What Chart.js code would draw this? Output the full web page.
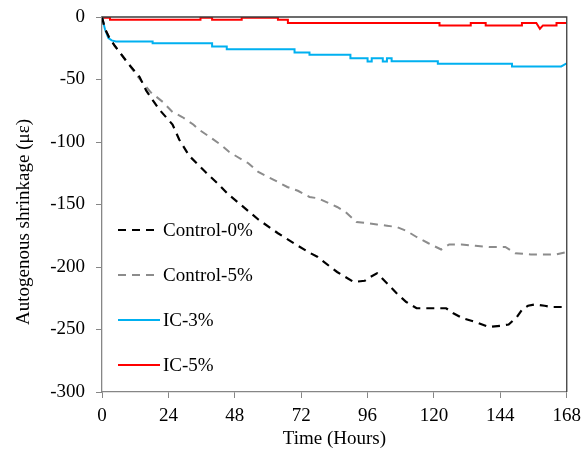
<!DOCTYPE html>
<html>
<head>
<meta charset="utf-8">
<script src="https://cdn.jsdelivr.net/npm/chart.js@4.4.1/dist/chart.umd.min.js"></script>
<style>
  html, body { margin: 0; padding: 0; background: #fff; }
  #wrap { width: 588px; height: 454px; }
</style>
</head>
<body>
<div id="wrap"><canvas id="chart" width="588" height="454"></canvas></div>
<script>
// ─── Data ───────────────────────────────────────────────────────────────────
const seriesLabels = ['Control-0%', 'Control-5%', 'IC-3%', 'IC-5%'];
const xTicks = [0, 24, 48, 72, 96, 120, 144, 168];
const yTicks = [0, -50, -100, -150, -200, -250, -300];

const ctrl0Hours  = [0, 1, 2.5, 4.6, 7, 9.4, 13.6, 16, 20.7, 25.5, 27.9, 31.5, 37.4, 42.2, 45.7, 49, 56.5, 63.6, 70.8, 75.4, 78,
                     82.6, 85, 91, 95, 97, 99.4, 103, 106.5, 110, 113.7, 118, 124.4, 127, 130.4, 135, 139.8,
                     144, 147, 150, 151.9, 154, 156.5, 160, 162.6, 168];
const ctrl0Strain = [0, -9, -16, -23, -30, -37, -48, -59, -74, -86, -98, -111, -124, -134, -142, -148, -162, -173, -183, -189, -192,
                     -200, -204, -212, -211, -208, -205, -213, -221, -228, -233, -233, -233, -237, -241, -244, -248,
                     -247, -246, -240, -234, -231, -230, -231, -232, -232];

const ctrl5Hours  = [0, 1, 2.5, 4.6, 7, 9.4, 13, 16, 17.5, 22, 25.5, 29, 33, 35, 39, 43.4, 46, 49, 52.9, 56.5, 60, 63.6,
                     67, 70.8, 75, 78, 82, 85, 88, 90, 92, 96, 99.4, 103, 106.5, 110, 113.7, 118, 122.6, 125.5,
                     130, 135, 140, 145.8, 149.4, 155, 159, 164, 168];
const ctrl5Strain = [0, -9, -16, -23, -30, -37, -48, -56, -60, -68, -76, -80, -86, -90, -96, -103, -108, -112, -117, -124, -128, -132,
                     -136, -139, -144, -145, -149, -152, -156, -160, -164, -165, -166, -167, -168, -171, -176, -181, -186, -182,
                     -182, -183, -184, -184, -189, -190, -190, -190, -188];

const ic3Hours  = [0, 1.1, 2.3, 3.5, 5, 18.3, 18.3, 39.8, 39.8, 45.1, 45.1, 69.6, 69.6, 75, 75, 89.8, 89.8, 96, 96,
                   97.5, 97.5, 101.5, 101.5, 103, 103, 104.7, 104.7, 121.4, 121.4, 148.2, 148.2, 166, 168];
const ic3Strain = [0, -10, -16.8, -18.7, -19.5, -19.5, -21, -21, -23.5, -23.5, -25.8, -25.8, -28.3, -28.3, -30.2, -30.2, -33, -33, -35.5,
                   -35.5, -33, -33, -35.5, -35.5, -33, -33, -35.3, -35.3, -37.4, -37.4, -39.5, -39.5, -37];

const ic5Hours  = [0, 2.9, 2.9, 35.6, 35.6, 39.8, 39.8, 50.5, 50.5, 63.6, 63.6, 67.2, 67.2, 122, 122, 133.3, 133.3,
                   138.7, 138.7, 151.8, 151.8, 157, 158.3, 159.4, 164.3, 164.3, 168];
const ic5Strain = [-0.5, -0.5, -2.2, -2.2, -0.6, -0.6, -2.2, -2.2, -0.6, -0.6, -2.2, -2.2, -4.8, -4.8, -6.7, -6.7, -4.8,
                   -4.8, -6.7, -6.7, -4.8, -4.8, -9.4, -6.7, -6.7, -4.8, -4.8];

const yTitle = 'Autogenous shrinkage (με)';
const xTitle = 'Time (Hours)';

// ─── Helpers ────────────────────────────────────────────────────────────────
const FONT = '"Liberation Serif", "Times New Roman", serif';
const AXIS_GREY = '#868686';

function pts(hours, strain) {
  return hours.map((h, i) => ({ x: h, y: strain[i] }));
}

// Cadre haut / droit (le bas et la gauche sont les axes)
const frameLines = {
  id: 'frameLines',
  afterDraw(chart) {
    const { ctx, chartArea: a } = chart;
    ctx.save();
    ctx.strokeStyle = '#3c3c3c';
    ctx.lineWidth = 1.3;
    ctx.beginPath();
    ctx.moveTo(a.left, a.top);
    ctx.lineTo(a.right, a.top);
    ctx.lineTo(a.right, a.bottom);
    ctx.stroke();
    ctx.restore();
  }
};

// Titre vertical (un peu plus bas que le centre de l'axe, comme l'original)
const yAxisTitle = {
  id: 'yAxisTitle',
  afterDraw(chart) {
    const { ctx, chartArea: a } = chart;
    ctx.save();
    ctx.translate(24, a.top + 205);
    ctx.rotate(-Math.PI / 2);
    ctx.font = '19px ' + FONT;
    ctx.fillStyle = '#000';
    ctx.textAlign = 'center';
    ctx.textBaseline = 'middle';
    ctx.fillText(yTitle, 0, 0);
    ctx.restore();
  }
};

// Legende dans la zone du graphique, a gauche
const insideLegend = {
  id: 'insideLegend',
  afterDraw(chart) {
    const { ctx, chartArea: a } = chart;
    const x0 = a.left + 16;
    ctx.save();
    ctx.font = '19px ' + FONT;
    ctx.textBaseline = 'middle';
    ctx.fillStyle = '#000';
    chart.data.datasets.forEach((ds, i) => {
      const y = a.top + 213 + i * 45;
      ctx.strokeStyle = ds.borderColor;
      ctx.lineWidth = ds.borderWidth;
      ctx.setLineDash(ds.borderDash || []);
      ctx.beginPath();
      ctx.moveTo(x0, y);
      ctx.lineTo(x0 + 42, y);
      ctx.stroke();
      ctx.setLineDash([]);
      ctx.fillText(ds.label, x0 + 45, y + 1);
    });
    ctx.restore();
  }
};

// ─── Chart ──────────────────────────────────────────────────────────────────
const common = { pointRadius: 0, pointHoverRadius: 0, tension: 0, fill: false, borderWidth: 2 };

new Chart(document.getElementById('chart'), {
  type: 'line',
  data: {
    datasets: [
      { ...common, label: seriesLabels[0], data: pts(ctrl0Hours, ctrl0Strain), borderColor: '#000000', borderDash: [8, 6], borderWidth: 2.2 },
      { ...common, label: seriesLabels[1], data: pts(ctrl5Hours, ctrl5Strain), borderColor: '#8c8c8c', borderDash: [8, 6] },
      { ...common, label: seriesLabels[2], data: pts(ic3Hours, ic3Strain), borderColor: '#00b0f0' },
      { ...common, label: seriesLabels[3], data: pts(ic5Hours, ic5Strain), borderColor: '#ff0000' },
    ],
  },
  options: {
    responsive: false,
    animation: false,
    layout: { padding: { left: 0, right: 16, top: 17, bottom: 0 } },
    plugins: {
      legend: { display: false },
      tooltip: { enabled: false },
    },
    scales: {
      x: {
        type: 'linear',
        min: 0, max: 168,
        afterBuildTicks: s => { s.ticks = xTicks.map(v => ({ value: v })); },
        afterFit: s => { s.height = 62; },
        ticks: { color: '#000', font: { family: FONT, size: 19 }, padding: 7, maxRotation: 0 },
        grid: { drawOnChartArea: false, drawTicks: true, tickLength: 6, color: AXIS_GREY },
        border: { color: AXIS_GREY, width: 1.3 },
        title: { display: true, text: xTitle, color: '#000', font: { family: FONT, size: 19 }, padding: { top: 0, bottom: 4 } },
      },
      y: {
        min: -300, max: 0,
        afterBuildTicks: s => { s.ticks = yTicks.map(v => ({ value: v })); },
        afterFit: s => { s.width = 102; s.paddingTop = 0; s.paddingBottom = 0; },
        ticks: { color: '#000', font: { family: FONT, size: 19 }, padding: 11 },
        grid: { drawOnChartArea: false, drawTicks: true, tickLength: 6, color: AXIS_GREY },
        border: { color: AXIS_GREY, width: 1.3 },
      },
    },
  },
  plugins: [frameLines, yAxisTitle, insideLegend],
});
</script>
</body>
</html>
